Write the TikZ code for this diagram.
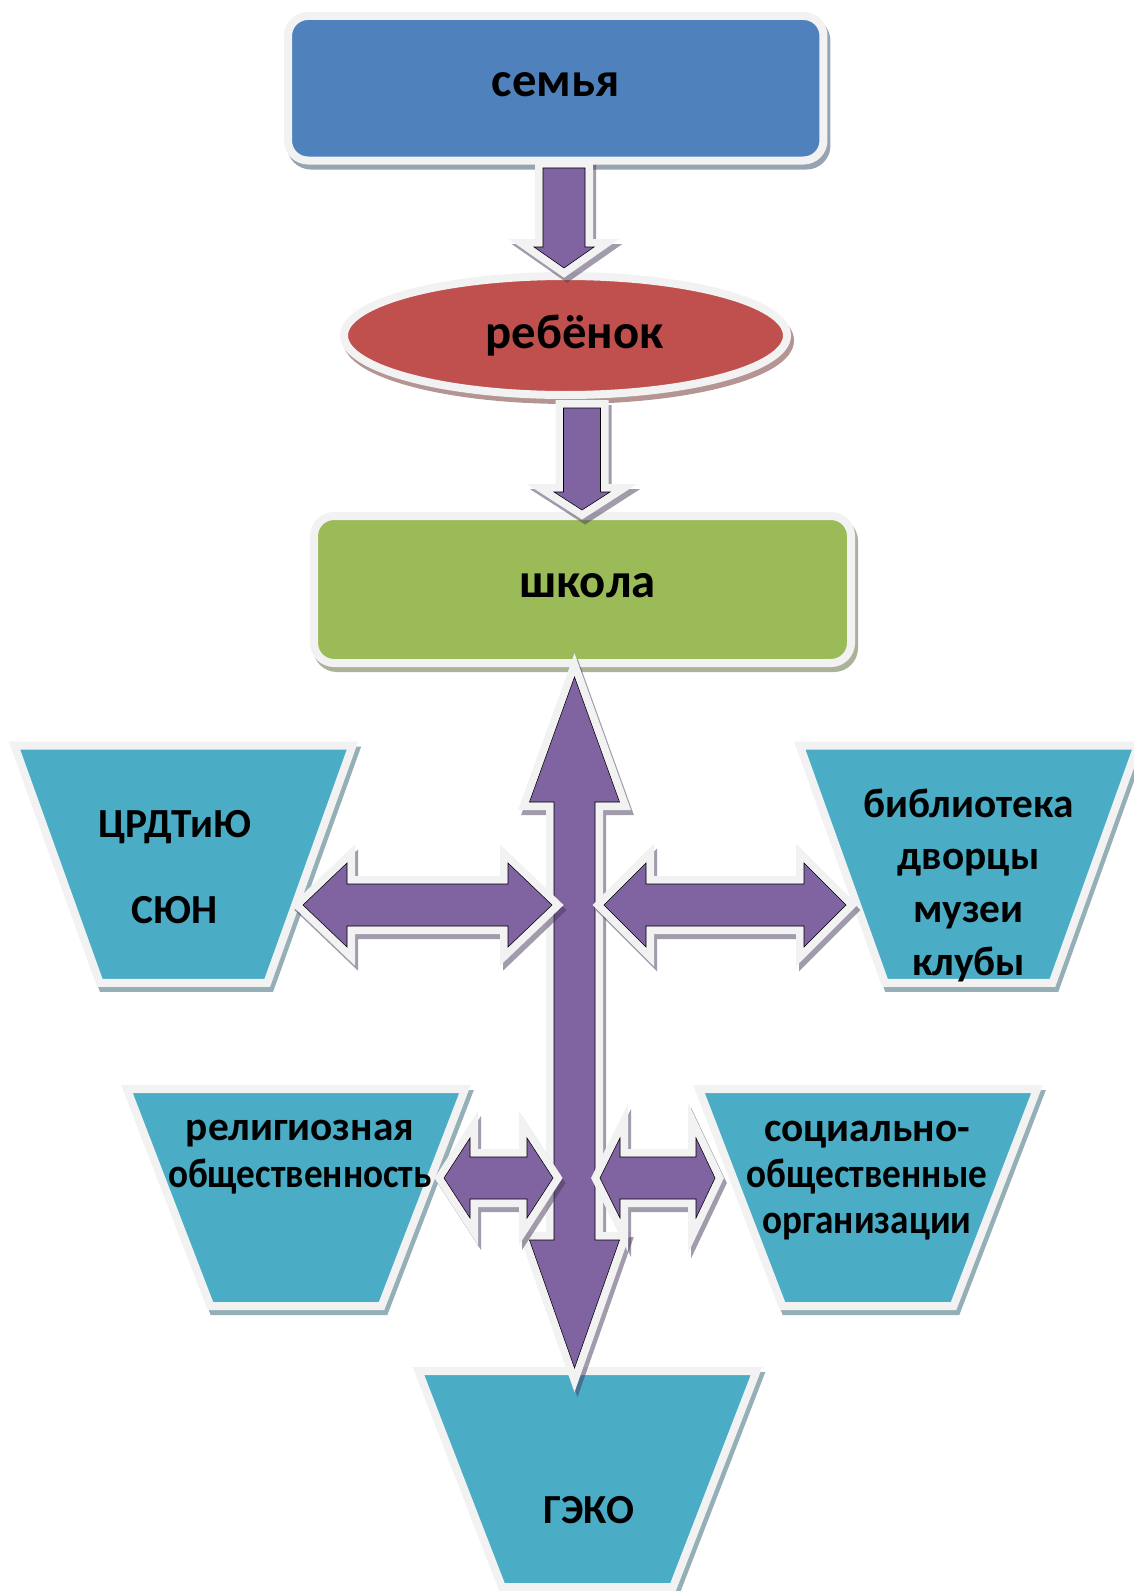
\documentclass[tikz,border=0pt]{standalone}
\usepackage{fontspec}
\setmainfont{Carlito}
\usepackage{graphicx}
\usetikzlibrary{shapes.geometric}

\definecolor{famblue}{HTML}{4F81BD}
\definecolor{childred}{HTML}{C0504D}
\definecolor{schoolgreen}{HTML}{9BBB59}
\definecolor{orgteal}{HTML}{4BACC6}
\definecolor{arrowviolet}{HTML}{8064A2}
\definecolor{rim}{HTML}{F2F2F2}

\begin{document}
\begin{tikzpicture}[x=0.75pt, y=-0.75pt,
	boxshadow/.style={preaction={draw=#1!55!black, line width=6pt, opacity=.5,
		transform canvas={xshift=2.25pt, yshift=-3.75pt}}},
	panel/.style={draw=rim, line width=6pt, fill=#1, boxshadow=#1, inner sep=0pt,
		font=\fontsize{36.5}{44}\selectfont\bfseries},
	trap/.style={trapezium, shape border rotate=180, trapezium stretches=true,
		trapezium left angle=#1, trapezium right angle=#1, minimum width=253.5pt,
		draw=rim, line width=6pt, fill=orgteal, boxshadow=orgteal, inner sep=1pt},
	lbl/.style={align=center, font=\fontsize{31}{#1}\selectfont\bfseries},
	barrow/.style={fill=arrowviolet, line join=miter,
		preaction={draw=arrowviolet!55!black, line width=12pt, line join=miter, opacity=.5,
			transform canvas={xshift=2.25pt, yshift=-3.75pt}},
		preaction={draw=rim, line width=12pt, line join=miter}}]
	\useasboundingbox (0,0) rectangle (1134,1591);
	
	% main chain
	\node[panel=famblue, minimum width=401.6pt, minimum height=108.4pt, rounded corners=15pt,
		text height=18pt, text depth=5.5pt] (semya) at (555.75,88.25) {семья};
	\node[panel=childred, ellipse, minimum width=332.25pt, minimum height=89.25pt]
		(rebenok) at (565.5,335.5) {\hspace*{13.5pt}ребёнок};
	\node[panel=schoolgreen, minimum width=402.75pt, minimum height=110.25pt, rounded corners=15pt,
		text height=18pt, text depth=6pt] (shkola) at (582.5,589.5) {\hspace*{7.5pt}школа};
	
	% partners
	\node[trap=63, minimum height=178.1pt] (crdt) at (183.5,864.25) {};
	\node[trap=63, minimum height=178.1pt] (biblio) at (968.75,864.25) {};
	\node[trap=64, minimum height=162.75pt] (relig) at (296,1197.5) {};
	\node[trap=64, minimum height=162.75pt] (socorg) at (868,1197.5) {};
	\node[trap=64, minimum height=162pt] (geko) at (587.5,1479) {};
	
	% arrow anchors
	\coordinate (a1) at (564,168);
	\coordinate (a2) at (582,408);
	\coordinate (vtop) at (574.5,677);
	\coordinate (hl) at (303,905);
	\coordinate (hr) at (604,905);
	\coordinate (sl) at (444,1178);
	\coordinate (sr) at (600,1178);
	
	% down arrows
	\draw[barrow, shift={(a1)}] (-21,0) -- (-21,79) -- (-30,79) -- (0,100) -- (30,79) -- (21,79) -- (21,0) -- cycle;
	\draw[barrow, shift={(a2)}] (-18.5,0) -- (-18.5,84) -- (-28,84) -- (0,102) -- (28,84) -- (18.5,84) -- (18.5,0) -- cycle;
	% school axis
	\draw[barrow, shift={(vtop)}] (0,0) -- (45,125) -- (20.5,125) -- (20.5,563) -- (45,563) -- (0,691)
		-- (-45,563) -- (-20.5,563) -- (-20.5,125) -- (-45,125) -- cycle;
	% side arrows
	\foreach \c/\p/\q/\l/\w in {hl/44/205/249/42, hr/42/200/242/42, sl/26/83/109/40, sr/20/96/115/40}
	\draw[barrow, shift={(\c)}] (0,0) -- (\p,-\w) -- (\p,-21) -- (\q,-21) -- (\q,-\w) -- (\l,0)
		-- (\q,\w) -- (\q,21) -- (\p,21) -- (\p,\w) -- cycle;
	
	% labels
	\node[lbl=64.5pt] (crdtlbl) at (174.5,867) {ЦРДТиЮ\\СЮН};
	\node[lbl=39.5pt] (bibliolbl) at (968.6,885) {библиотека\\дворцы\\музеи\\клубы};
	\node[lbl=35pt] (religlbl) at (300,1157) {религиозная\\\scalebox{0.9}[1]{общественность}};
	\node[lbl=34.5pt] (socorglbl) at (867,1181) {социально-\\\scalebox{0.9}[1]{общественные}\\\scalebox{0.9}[1]{организации}};
	\node[lbl=38pt] (gekolbl) at (589,1510) {ГЭКО};
\end{tikzpicture}
\end{document}
